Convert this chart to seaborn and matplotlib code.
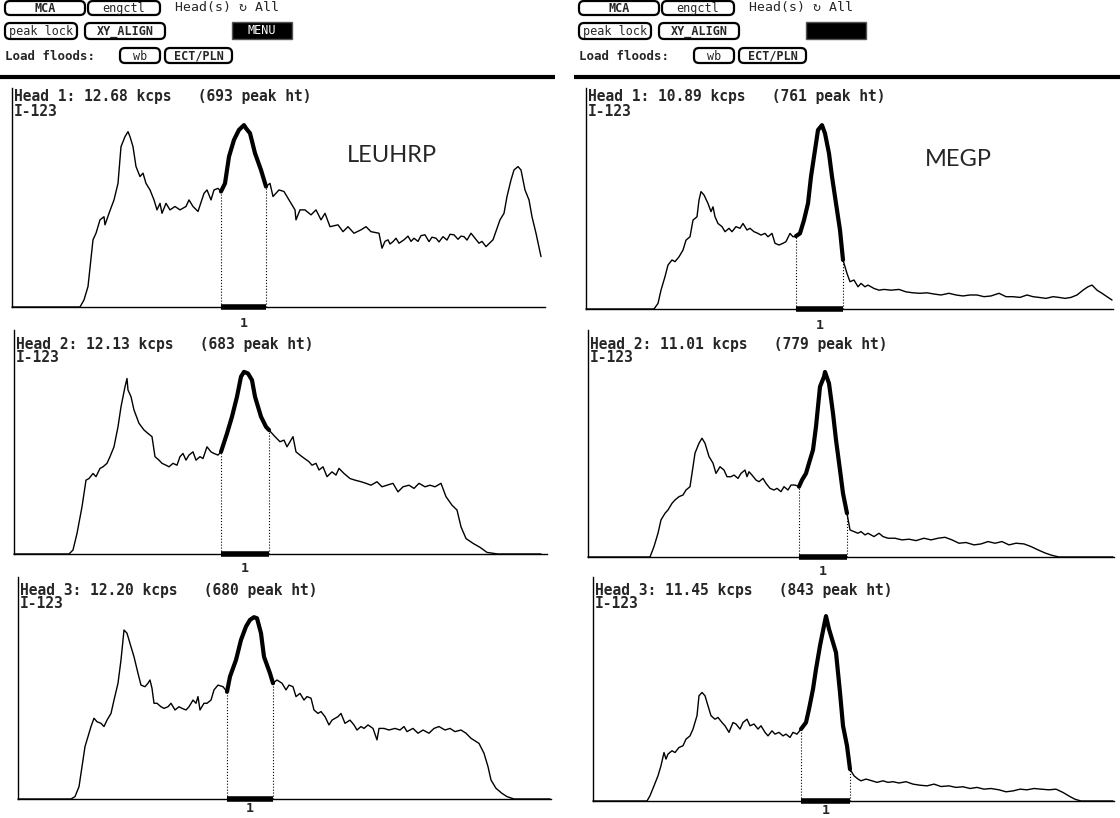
import matplotlib.patches as mpatches
import matplotlib.pyplot as plt
import numpy as np
import seaborn as sns

sns.set_style("white")
plt.rcParams['font.family'] = ['DejaVu Sans Mono', 'DejaVu Sans']

### SPECTRA (channel, counts) ###

leuhrp_head1 = [(0, 0), (68, 0), (72, 27), (76, 78), (81, 256), (84, 281), (88, 332), (92, 344), (93, 313),
                (97, 357), (102, 408), (106, 471), (109, 611), (113, 649), (116, 668), (118, 649), (121, 611),
                (124, 535), (128, 497), (131, 510), (134, 471), (138, 446), (142, 408), (145, 370), (148, 395),
                (150, 357), (154, 395), (158, 370), (163, 383), (168, 370), (174, 383), (177, 408), (181, 383),
                (186, 364), (192, 433), (195, 446), (199, 408), (202, 446), (206, 452), (209, 440), (213, 471),
                (217, 573), (222, 637), (227, 675), (232, 693), (234, 681), (238, 662), (243, 586), (249, 522),
                (254, 459), (258, 471), (261, 421), (267, 446), (272, 440), (277, 408), (283, 370), (284, 332),
                (288, 370), (293, 370), (299, 351), (304, 370), (309, 332), (313, 357), (318, 306), (326, 313),
                (331, 287), (336, 306), (342, 281), (349, 294), (354, 306), (359, 287), (367, 281), (370, 224),
                (373, 250), (376, 256), (378, 240), (381, 249), (384, 262), (387, 243), (392, 256), (396, 270),
                (399, 250), (402, 262), (406, 250), (409, 272), (413, 275), (417, 249), (420, 266), (424, 262),
                (427, 248), (431, 268), (435, 255), (438, 277), (442, 275), (446, 258), (449, 270), (452, 268),
                (455, 255), (459, 281), (463, 262), (467, 243), (470, 250), (474, 230), (478, 245), (481, 256),
                (488, 332), (492, 357), (495, 421), (499, 484), (502, 522), (506, 535), (509, 522), (513, 446),
                (517, 408), (520, 344), (524, 281), (529, 192)]

leuhrp_head2 = [(0, 0), (55, 0), (59, 15), (63, 77), (68, 177), (72, 277), (75, 283), (79, 302), (82, 290),
                (86, 321), (89, 327), (93, 340), (96, 365), (100, 402), (104, 477), (107, 552), (111, 627),
                (113, 658), (114, 615), (117, 590), (120, 540), (125, 490), (130, 465), (134, 452), (138, 440),
                (141, 365), (145, 352), (148, 340), (152, 333), (155, 327), (159, 340), (163, 333), (166, 365),
                (169, 377), (172, 352), (175, 371), (179, 383), (182, 352), (186, 365), (189, 358), (193, 402),
                (197, 383), (200, 377), (204, 371), (207, 383), (213, 452), (218, 515), (223, 590), (227, 665),
                (230, 683), (234, 677), (238, 652), (241, 590), (247, 515), (252, 477), (255, 465), (261, 440),
                (266, 421), (270, 427), (273, 402), (279, 440), (282, 383), (288, 365), (295, 346), (298, 333),
                (302, 340), (305, 315), (309, 327), (313, 290), (318, 308), (322, 296), (325, 321), (330, 302),
                (336, 283), (341, 277), (347, 271), (352, 265), (357, 258), (363, 271), (368, 252), (373, 258),
                (379, 265), (384, 233), (389, 252), (395, 258), (400, 246), (405, 265), (411, 252), (416, 258),
                (421, 252), (427, 265), (432, 215), (438, 183), (443, 165), (447, 102), (452, 58), (459, 40),
                (466, 25), (473, 6), (484, 0), (527, 0)]

leuhrp_head3 = [(0, 0), (53, 0), (57, 9), (61, 46), (64, 121), (67, 196), (71, 246), (73, 271), (76, 302),
                (79, 289), (83, 283), (86, 271), (89, 295), (93, 320), (96, 370), (100, 433), (103, 520),
                (106, 632), (109, 620), (112, 582), (116, 532), (120, 470), (123, 426), (127, 420), (130, 433),
                (132, 445), (134, 414), (136, 358), (139, 358), (143, 345), (146, 339), (150, 345), (153, 358),
                (157, 333), (161, 345), (164, 339), (168, 333), (171, 345), (175, 370), (178, 358), (180, 383),
                (182, 333), (186, 358), (189, 358), (193, 370), (196, 408), (200, 426), (205, 420), (209, 401),
                (212, 458), (218, 520), (223, 595), (228, 645), (232, 670), (236, 680), (239, 676), (243, 620),
                (246, 532), (252, 470), (255, 433), (259, 445), (264, 433), (268, 408), (271, 426), (275, 420),
                (278, 383), (282, 395), (286, 370), (289, 383), (293, 377), (296, 333), (300, 320), (303, 327),
                (307, 308), (311, 277), (314, 295), (320, 308), (323, 320), (327, 283), (332, 295), (336, 277),
                (339, 258), (343, 271), (346, 264), (350, 277), (355, 264), (359, 221), (361, 264), (366, 264),
                (371, 258), (377, 264), (382, 258), (386, 271), (389, 252), (395, 264), (400, 246), (405, 258),
                (411, 246), (416, 264), (421, 271), (427, 258), (432, 264), (437, 252), (443, 258), (448, 246),
                (453, 227), (461, 208), (466, 171), (470, 121), (473, 71), (478, 40), (484, 21), (489, 9),
                (496, 0), (532, 0)]

megp_head1 = [(0, 0), (68, 0), (72, 23), (75, 78), (79, 134), (82, 182), (86, 203), (89, 196), (93, 216),
              (97, 244), (100, 285), (104, 299), (107, 368), (111, 382), (113, 451), (115, 486), (118, 472),
              (122, 437), (125, 403), (127, 423), (129, 382), (132, 354), (136, 341), (139, 320), (143, 334),
              (146, 320), (150, 341), (154, 334), (157, 354), (161, 327), (164, 334), (168, 320), (172, 313),
              (175, 306), (179, 313), (182, 299), (186, 313), (189, 272), (193, 265), (197, 272), (200, 279),
              (204, 313), (207, 299), (210, 302), (214, 313), (218, 368), (222, 437), (225, 548), (229, 658),
              (232, 741), (236, 761), (239, 727), (243, 644), (246, 548), (250, 437), (254, 327), (257, 203),
              (261, 147), (264, 113), (268, 120), (272, 92), (275, 106), (279, 92), (282, 99), (288, 85),
              (293, 78), (298, 81), (305, 78), (313, 81), (320, 71), (327, 67), (334, 65), (341, 67), (348, 62),
              (355, 58), (363, 65), (370, 58), (377, 54), (384, 58), (391, 58), (398, 51), (405, 54), (413, 65),
              (420, 51), (427, 51), (434, 48), (441, 58), (447, 51), (453, 48), (460, 44), (467, 51), (473, 48),
              (479, 44), (485, 48), (491, 58), (497, 78), (502, 92), (506, 99), (511, 78), (516, 65), (521, 51),
              (526, 37)]

megp_head2 = [(0, 0), (62, 0), (66, 44), (70, 100), (73, 156), (77, 184), (80, 198), (84, 226), (87, 240),
              (91, 254), (95, 261), (98, 282), (102, 296), (105, 380), (107, 437), (111, 479), (114, 500),
              (117, 479), (121, 423), (125, 395), (128, 352), (132, 380), (136, 366), (139, 338), (143, 338),
              (146, 345), (150, 331), (153, 352), (157, 366), (159, 338), (161, 359), (164, 345), (168, 324),
              (171, 317), (175, 331), (178, 310), (182, 289), (186, 282), (189, 289), (193, 275), (196, 296),
              (200, 282), (203, 303), (207, 303), (211, 296), (214, 324), (218, 352), (221, 395), (225, 451),
              (228, 549), (232, 717), (236, 759), (237, 779), (241, 731), (245, 605), (248, 493), (252, 366),
              (255, 268), (259, 184), (262, 114), (266, 107), (270, 100), (273, 107), (277, 93), (280, 100),
              (286, 86), (291, 100), (295, 86), (300, 79), (307, 79), (314, 72), (321, 75), (328, 69), (336, 79),
              (343, 72), (350, 79), (357, 83), (364, 72), (371, 58), (378, 61), (386, 51), (393, 55), (400, 65),
              (407, 58), (414, 65), (421, 51), (428, 58), (436, 55), (443, 44), (450, 30), (457, 17), (464, 7),
              (471, 0), (525, 0)]

megp_head3 = [(0, 0), (54, 0), (57, 24), (61, 69), (65, 115), (68, 161), (71, 221), (73, 191), (75, 214),
              (79, 229), (82, 221), (86, 244), (90, 252), (93, 282), (97, 297), (100, 328), (104, 389), (106, 480),
              (109, 495), (112, 480), (115, 434), (118, 389), (122, 373), (125, 381), (129, 358), (132, 343),
              (136, 313), (140, 358), (143, 351), (147, 328), (150, 358), (154, 373), (157, 343), (161, 351),
              (165, 328), (168, 343), (172, 313), (175, 297), (179, 320), (182, 305), (186, 313), (190, 297),
              (193, 305), (197, 290), (200, 313), (204, 305), (208, 328), (213, 358), (216, 419), (220, 510),
              (223, 601), (227, 708), (231, 799), (233, 843), (236, 784), (240, 723), (243, 677), (247, 495),
              (250, 343), (254, 252), (257, 145), (261, 115), (265, 100), (268, 92), (273, 100), (279, 92),
              (284, 85), (290, 92), (295, 85), (300, 88), (306, 82), (313, 88), (320, 77), (327, 72), (334, 69),
              (341, 77), (348, 66), (356, 69), (363, 62), (370, 65), (377, 57), (384, 62), (391, 54), (398, 57),
              (406, 51), (413, 42), (420, 46), (427, 54), (434, 51), (441, 57), (448, 54), (456, 51), (463, 54),
              (470, 39), (477, 20), (482, 8), (488, 0), (520, 0)]

# energy window (ROI 1) per head, in channels
leuhrp_roi = [(209, 254), (207, 255), (209, 255)]
megp_roi = [(210, 257), (211, 259), (208, 257)]

leuhrp_kcps = ['12.68', '12.13', '12.20']
leuhrp_peak = [693, 683, 680]
megp_kcps = ['10.89', '11.01', '11.45']
megp_peak = [761, 779, 843]

isotope = 'I-123'
collimators = ['LEUHRP', 'MEGP']

### FIGURE ###

W, H = 1120, 818
fig = plt.figure(figsize=(W / 100, H / 100), dpi=100)

ov = fig.add_axes([0, 0, 1, 1])
ov.set_xlim(0, W)
ov.set_ylim(H, 0)
ov.axis('off')


def button(x0, y0, x1, y1, label, bold=False):
    ov.add_patch(mpatches.FancyBboxPatch((x0, y0), x1 - x0, y1 - y0,
                                         boxstyle="round,pad=0,rounding_size=5",
                                         lw=1.6, ec='black', fc='white'))
    ov.text((x0 + x1) / 2, (y0 + y1) / 2 + 0.5, label, ha='center', va='center', fontsize=8.5,
            fontweight='bold' if bold else 'normal')


def control_bar(dx, menu_label):
    button(dx + 5, 1, dx + 85, 15, 'MCA', bold=True)
    button(dx + 88, 1, dx + 160, 15, 'engctl')
    ov.text(dx + 175, 8, 'Head(s) \u21bb All', ha='left', va='center', fontsize=9.5)
    button(dx + 5, 23, dx + 77, 39, 'peak lock')
    button(dx + 85, 23, dx + 165, 39, 'XY_ALIGN', bold=True)
    ov.add_patch(mpatches.Rectangle((dx + 232, 22), 60, 17, fc='black', ec='#555555', lw=1))
    if menu_label:
        ov.text(dx + 262, 31, menu_label, ha='center', va='center', fontsize=8.5, color='white')
    ov.text(dx + 5, 56, 'Load floods:', ha='left', va='center', fontsize=9, fontweight='bold')
    button(dx + 120, 48, dx + 160, 63, 'wb')
    button(dx + 165, 48, dx + 232, 63, 'ECT/PLN', bold=True)
    ov.plot([dx, dx + 555], [77, 77], color='black', lw=3, solid_capstyle='butt')


control_bar(0, 'MENU')
control_bar(574, '')

# panel boxes in pixels: (left, top, right, bottom)
left_boxes = [(12, 88, 545, 307), (14, 330, 547, 554), (18, 577, 551, 799)]
right_boxes = [(586, 88, 1113, 309), (588, 330, 1114, 557), (593, 577, 1114, 801)]
header_y = [97, 344, 590]
label_pad = [7, 6, 2]
# counts per pixel, taken from the peak height of each head
left_scale = [3.81, 3.75, 3.74]
right_scale = [4.14, 4.21, 4.56]


def draw_panel(box, scale, spectrum, roi, head, kcps, peak):
    x0, y0, x1, y1 = box
    ax = fig.add_axes([x0 / W, 1 - y1 / H, (x1 - x0) / W, (y1 - y0) / H])
    ax.set_facecolor('none')
    ch = np.array([p[0] for p in spectrum])
    ct = np.array([p[1] for p in spectrum])
    sns.lineplot(x=ch, y=ct, ax=ax, color='black', lw=1.0, estimator=None, sort=False)
    m = (ch >= roi[0]) & (ch <= roi[1])
    sns.lineplot(x=ch[m], y=ct[m], ax=ax, color='black', lw=3.0, estimator=None, sort=False)
    ax.vlines(list(roi), 0, np.interp(list(roi), ch, ct), colors='black', linestyles=':', lw=0.8)
    ax.plot(list(roi), [0, 0], color='black', lw=4, solid_capstyle='butt')
    for ln in ax.lines:
        ln.set_clip_on(False)
    ax.set_xlim(0, x1 - x0)
    ax.set_ylim(0, (y1 - y0) * scale)
    ax.set_xticks([(roi[0] + roi[1]) / 2])
    ax.set_xticklabels(['1'], fontsize=9.5, fontweight='bold')
    ax.tick_params(axis='x', length=0, pad=label_pad[head - 1])
    ax.set_yticks([])
    ax.set_xlabel('')
    ax.set_ylabel('')
    sns.despine(ax=ax)
    for s in ('left', 'bottom'):
        ax.spines[s].set_color('black')
        ax.spines[s].set_linewidth(1.0)
    hy = header_y[head - 1]
    ov.text(x0 + 2, hy, f'Head {head}: {kcps} kcps   ({peak} peak ht)', ha='left', va='center',
            fontsize=10.5, fontweight='bold')
    ov.text(x0 + 2, hy + 14, isotope, ha='left', va='center', fontsize=10.5, fontweight='bold')
    return ax


left_spectra = [leuhrp_head1, leuhrp_head2, leuhrp_head3]
right_spectra = [megp_head1, megp_head2, megp_head3]

for i in range(3):
    draw_panel(left_boxes[i], left_scale[i], left_spectra[i], leuhrp_roi[i], i + 1, leuhrp_kcps[i], leuhrp_peak[i])
    draw_panel(right_boxes[i], right_scale[i], right_spectra[i], megp_roi[i], i + 1, megp_kcps[i], megp_peak[i])

ov.text(392, 156, collimators[0], ha='center', va='center', fontsize=17, family='Lato')
ov.text(958, 160, collimators[1], ha='center', va='center', fontsize=17, family='Lato')

fig.savefig('out.png', dpi=100)
